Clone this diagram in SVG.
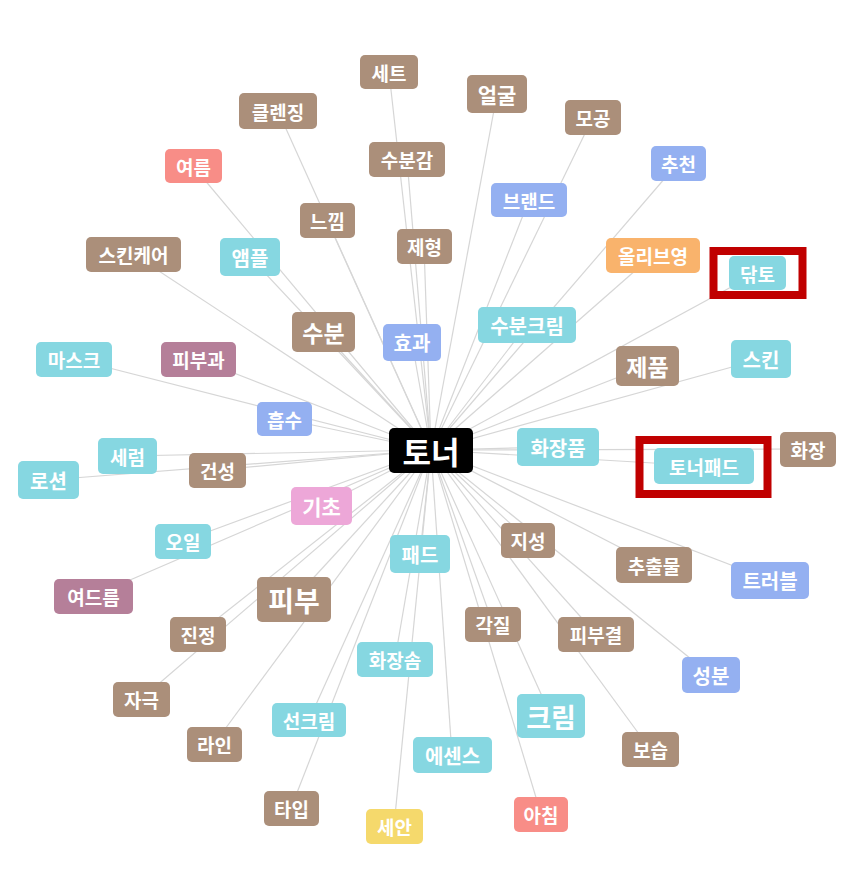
<svg xmlns="http://www.w3.org/2000/svg" width="851" height="870" viewBox="0 0 851 870">
<style>
.e{stroke:#d6d6d6;stroke-width:1.2;fill:none}
.n rect{rx:5;ry:5}
.n text{font-family:"Noto Sans CJK KR","Noto Sans",sans-serif;font-weight:bold;fill:#fff;text-anchor:middle;dominant-baseline:central}
.br rect{fill:#ab8f7a}
.cy rect{fill:#86d7e1}
.bl rect{fill:#94b0f1}
.sa rect{fill:#f88d87}
.mv rect{fill:#b57f99}
.pk rect{fill:#eda7d8}
.or rect{fill:#f9b36c}
.ye rect{fill:#f5d96c}
.bk rect{fill:#000}
.hl{fill:none;stroke:#c00000;stroke-width:8}
</style>
<rect width="851" height="870" fill="#fff"/>
<g id="edges">
<line class="e" x1="389" y1="72" x2="431" y2="450"/>
<line class="e" x1="497" y1="94" x2="431" y2="450"/>
<line class="e" x1="278" y1="111" x2="431" y2="450"/>
<line class="e" x1="593" y1="117" x2="431" y2="450"/>
<line class="e" x1="193" y1="166" x2="431" y2="450"/>
<line class="e" x1="407" y1="159" x2="431" y2="450"/>
<line class="e" x1="678" y1="163" x2="431" y2="450"/>
<line class="e" x1="529" y1="200" x2="431" y2="450"/>
<line class="e" x1="327" y1="220" x2="431" y2="450"/>
<line class="e" x1="424" y1="246" x2="431" y2="450"/>
<line class="e" x1="133" y1="254" x2="431" y2="450"/>
<line class="e" x1="250" y1="257" x2="431" y2="450"/>
<line class="e" x1="653" y1="255" x2="431" y2="450"/>
<line class="e" x1="757" y1="273" x2="431" y2="450"/>
<line class="e" x1="323" y1="332" x2="431" y2="450"/>
<line class="e" x1="412" y1="342" x2="431" y2="450"/>
<line class="e" x1="527" y1="325" x2="431" y2="450"/>
<line class="e" x1="647" y1="366" x2="431" y2="450"/>
<line class="e" x1="761" y1="359" x2="431" y2="450"/>
<line class="e" x1="74" y1="359" x2="431" y2="450"/>
<line class="e" x1="198" y1="359" x2="431" y2="450"/>
<line class="e" x1="284" y1="419" x2="431" y2="450"/>
<line class="e" x1="558" y1="447" x2="431" y2="450"/>
<line class="e" x1="704" y1="466" x2="431" y2="450"/>
<line class="e" x1="808" y1="449" x2="431" y2="450"/>
<line class="e" x1="127" y1="456" x2="431" y2="450"/>
<line class="e" x1="48" y1="480" x2="431" y2="450"/>
<line class="e" x1="217" y1="470" x2="431" y2="450"/>
<line class="e" x1="321" y1="506" x2="431" y2="450"/>
<line class="e" x1="420" y1="554" x2="431" y2="450"/>
<line class="e" x1="528" y1="540" x2="431" y2="450"/>
<line class="e" x1="183" y1="541" x2="431" y2="450"/>
<line class="e" x1="654" y1="565" x2="431" y2="450"/>
<line class="e" x1="770" y1="580" x2="431" y2="450"/>
<line class="e" x1="93" y1="596" x2="431" y2="450"/>
<line class="e" x1="294" y1="599" x2="431" y2="450"/>
<line class="e" x1="493" y1="624" x2="431" y2="450"/>
<line class="e" x1="198" y1="634" x2="431" y2="450"/>
<line class="e" x1="596" y1="634" x2="431" y2="450"/>
<line class="e" x1="395" y1="659" x2="431" y2="450"/>
<line class="e" x1="711" y1="675" x2="431" y2="450"/>
<line class="e" x1="141" y1="699" x2="431" y2="450"/>
<line class="e" x1="551" y1="716" x2="431" y2="450"/>
<line class="e" x1="309" y1="720" x2="431" y2="450"/>
<line class="e" x1="214" y1="744" x2="431" y2="450"/>
<line class="e" x1="650" y1="749" x2="431" y2="450"/>
<line class="e" x1="452" y1="755" x2="431" y2="450"/>
<line class="e" x1="291" y1="808" x2="431" y2="450"/>
<line class="e" x1="394" y1="826" x2="431" y2="450"/>
<line class="e" x1="541" y1="814" x2="431" y2="450"/>
</g>
<g id="nodes">
<g id="n-sete" class="n br"><rect x="360" y="55" width="58" height="34"/><text x="389" y="72" font-size="19">세트</text></g>
<g id="n-eolgul" class="n br"><rect x="467" y="75" width="60" height="38"/><text x="497" y="94" font-size="21">얼굴</text></g>
<g id="n-cleansing" class="n br"><rect x="239" y="93" width="78" height="36"/><text x="278" y="111" font-size="19">클렌징</text></g>
<g id="n-mogong" class="n br"><rect x="565" y="100" width="56" height="35"/><text x="593" y="117.5" font-size="19">모공</text></g>
<g id="n-yeoreum" class="n sa"><rect x="165" y="149" width="57" height="34"/><text x="193.5" y="166" font-size="19">여름</text></g>
<g id="n-subungam" class="n br"><rect x="369" y="142" width="76" height="35"/><text x="407" y="159.5" font-size="19">수분감</text></g>
<g id="n-chucheon" class="n bl"><rect x="651" y="146" width="55" height="35"/><text x="678.5" y="163.5" font-size="19">추천</text></g>
<g id="n-brand" class="n bl"><rect x="491" y="183" width="76" height="34"/><text x="529" y="200" font-size="19">브랜드</text></g>
<g id="n-neukkim" class="n br"><rect x="300" y="203" width="55" height="35"/><text x="327.5" y="220.5" font-size="19">느낌</text></g>
<g id="n-jehyeong" class="n br"><rect x="397" y="229" width="55" height="35"/><text x="424.5" y="246.5" font-size="19">제형</text></g>
<g id="n-skincare" class="n br"><rect x="86" y="237" width="95" height="35"/><text x="133.5" y="254.5" font-size="19">스킨케어</text></g>
<g id="n-ampoule" class="n cy"><rect x="220" y="238" width="60" height="38"/><text x="250" y="257" font-size="20">앰플</text></g>
<g id="n-oliveyoung" class="n or"><rect x="606" y="238" width="94" height="35"/><text x="653" y="255.5" font-size="19">올리브영</text></g>
<g id="n-dakto" class="n cy"><rect x="729" y="256" width="57" height="34"/><text x="757.5" y="273" font-size="19">닦토</text></g>
<g id="n-subun" class="n br"><rect x="292" y="312" width="63" height="40"/><text x="323.5" y="332" font-size="23">수분</text></g>
<g id="n-hyogwa" class="n bl"><rect x="383" y="324" width="58" height="37"/><text x="412" y="342.5" font-size="20">효과</text></g>
<g id="n-subuncream" class="n cy"><rect x="478" y="307" width="98" height="36"/><text x="527" y="325" font-size="20">수분크림</text></g>
<g id="n-jepum" class="n br"><rect x="616" y="346" width="63" height="40"/><text x="647.5" y="366" font-size="23">제품</text></g>
<g id="n-skin" class="n cy"><rect x="731" y="340" width="60" height="38"/><text x="761" y="359" font-size="20">스킨</text></g>
<g id="n-mask" class="n cy"><rect x="36" y="342" width="76" height="35"/><text x="74" y="359.5" font-size="19">마스크</text></g>
<g id="n-pibugwa" class="n mv"><rect x="161" y="342" width="75" height="35"/><text x="198.5" y="359.5" font-size="19">피부과</text></g>
<g id="n-heupsu" class="n bl"><rect x="257" y="402" width="55" height="34"/><text x="284.5" y="419" font-size="19">흡수</text></g>
<g id="n-toner" class="n bk"><rect x="389" y="428" width="84" height="45"/><text x="431" y="450.5" font-size="31">토너</text></g>
<g id="n-hwajangpum" class="n cy"><rect x="517" y="428" width="82" height="38"/><text x="558" y="447" font-size="20">화장품</text></g>
<g id="n-tonerpad" class="n cy"><rect x="654" y="448" width="100" height="36"/><text x="704" y="466" font-size="19">토너패드</text></g>
<g id="n-hwajang" class="n br"><rect x="780" y="432" width="56" height="35"/><text x="808" y="449.5" font-size="19">화장</text></g>
<g id="n-serum" class="n cy"><rect x="98" y="438" width="59" height="36"/><text x="127.5" y="456" font-size="19">세럼</text></g>
<g id="n-lotion" class="n cy"><rect x="18" y="461" width="61" height="38"/><text x="48.5" y="480" font-size="20">로션</text></g>
<g id="n-geonseong" class="n br"><rect x="189" y="453" width="57" height="35"/><text x="217.5" y="470.5" font-size="19">건성</text></g>
<g id="n-gicho" class="n pk"><rect x="291" y="487" width="61" height="38"/><text x="321.5" y="506" font-size="21">기초</text></g>
<g id="n-pad" class="n cy"><rect x="390" y="535" width="60" height="38"/><text x="420" y="554" font-size="20">패드</text></g>
<g id="n-jiseong" class="n br"><rect x="501" y="523" width="54" height="35"/><text x="528" y="540.5" font-size="19">지성</text></g>
<g id="n-oil" class="n cy"><rect x="155" y="524" width="56" height="35"/><text x="183" y="541.5" font-size="19">오일</text></g>
<g id="n-chuchulmul" class="n br"><rect x="616" y="547" width="76" height="36"/><text x="654" y="565" font-size="19">추출물</text></g>
<g id="n-trouble" class="n bl"><rect x="731" y="562" width="78" height="37"/><text x="770" y="580.5" font-size="20">트러블</text></g>
<g id="n-yeodeureum" class="n mv"><rect x="54" y="579" width="79" height="35"/><text x="93.5" y="596.5" font-size="19">여드름</text></g>
<g id="n-pibu" class="n br"><rect x="257" y="577" width="74" height="45"/><text x="294" y="599.5" font-size="28">피부</text></g>
<g id="n-gakjil" class="n br"><rect x="465" y="607" width="56" height="35"/><text x="493" y="624.5" font-size="19">각질</text></g>
<g id="n-jinjeong" class="n br"><rect x="170" y="617" width="56" height="35"/><text x="198" y="634.5" font-size="19">진정</text></g>
<g id="n-pibugyeol" class="n br"><rect x="558" y="617" width="76" height="35"/><text x="596" y="634.5" font-size="19">피부결</text></g>
<g id="n-hwajangsom" class="n cy"><rect x="357" y="642" width="76" height="35"/><text x="395" y="659.5" font-size="19">화장솜</text></g>
<g id="n-seongbun" class="n bl"><rect x="682" y="657" width="58" height="36"/><text x="711" y="675" font-size="20">성분</text></g>
<g id="n-jageuk" class="n br"><rect x="113" y="682" width="57" height="35"/><text x="141.5" y="699.5" font-size="19">자극</text></g>
<g id="n-cream" class="n cy"><rect x="517" y="694" width="68" height="44"/><text x="551" y="716" font-size="27">크림</text></g>
<g id="n-suncream" class="n cy"><rect x="272" y="703" width="74" height="34"/><text x="309" y="720" font-size="19">선크림</text></g>
<g id="n-line" class="n br"><rect x="187" y="727" width="55" height="35"/><text x="214.5" y="744.5" font-size="19">라인</text></g>
<g id="n-boseup" class="n br"><rect x="622" y="732" width="57" height="35"/><text x="650.5" y="749.5" font-size="19">보습</text></g>
<g id="n-essence" class="n cy"><rect x="413" y="737" width="79" height="36"/><text x="452.5" y="755" font-size="20">에센스</text></g>
<g id="n-type" class="n br"><rect x="264" y="791" width="55" height="35"/><text x="291.5" y="808.5" font-size="19">타입</text></g>
<g id="n-sean" class="n ye"><rect x="366" y="809" width="57" height="35"/><text x="394.5" y="826.5" font-size="19">세안</text></g>
<g id="n-achim" class="n sa"><rect x="514" y="797" width="54" height="35"/><text x="541" y="814.5" font-size="19">아침</text></g>
</g>
<g id="highlights">
<rect class="hl" x="713.5" y="251" width="89" height="44"/>
<rect class="hl" x="639.5" y="440" width="128" height="54"/>
</g>
</svg>
